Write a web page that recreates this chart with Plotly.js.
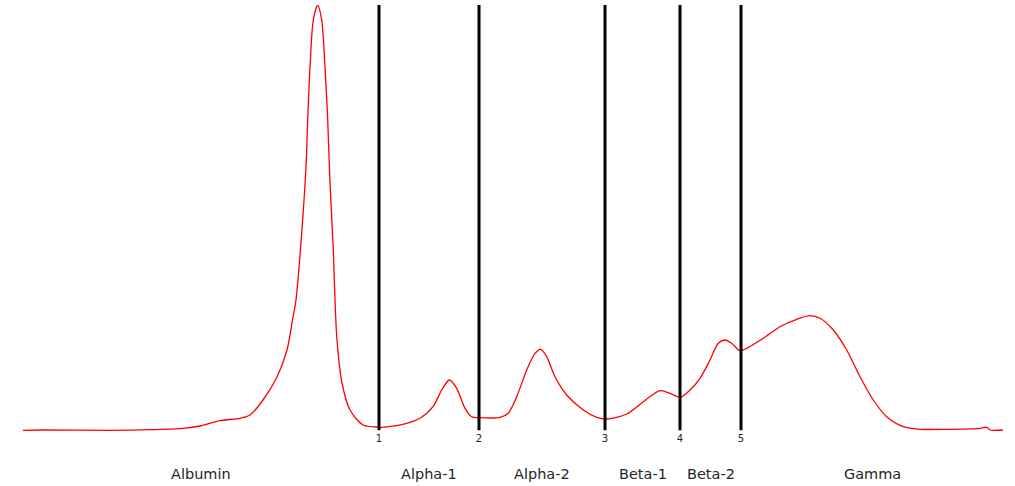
<!DOCTYPE html>
<html>
<head>
<meta charset="utf-8">
<script src="https://cdn.plot.ly/plotly-3.0.1.min.js"></script>
<style>html,body{margin:0;padding:0;background:#fff;}#chart{width:1015px;height:486px;}</style>
</head>
<body>
<div id="chart"></div>
<script>
// Densitometry trace (mobility position, intensity)
const position = [23, 40, 110, 150, 183, 200, 220, 240, 250, 263, 277, 287, 292.5, 296, 301.7, 306, 307.7, 310, 313.3, 317.7,
  321.7, 325, 327.7, 330, 333.3, 335, 337, 342, 350, 363, 377, 380, 403, 420, 433, 441.7, 449.3, 456.7, 465, 471.7, 480,
  500, 508.3, 516.7, 526.7, 535, 540.7, 546.7, 555, 566.7, 583.3, 596.7, 606.7, 626.7, 643.3, 660, 670, 680, 690, 700,
  710, 718.3, 725, 731.7, 740, 746.7, 763.3, 780, 796.7, 810, 820, 833.3, 846.7, 860, 873.3, 886.7, 903.3, 920, 946.7,
  980, 986.7, 990, 1003];
const intensity = [0.5, 1, 0.7, 1.3, 2.7, 5, 10.3, 12.7, 16, 31, 54, 81, 111, 131, 198, 264, 311, 364, 411, 426,
  411, 364, 311, 248, 181, 131, 91, 48, 21, 6, 4, 3.7, 6.7, 12.7, 24.3, 41, 51, 42.7, 22.7, 14.3, 13.3,
  13.7, 17.7, 34.3, 61, 77.7, 81.7, 74.3, 54.3, 36, 21, 13.7, 12, 17, 29.3, 40.3, 37.7, 33.7, 41, 52.7,
  71, 87.7, 91, 87.7, 80.3, 82.7, 92.7, 104.3, 111.7, 115.3, 112.7, 101, 81, 54.3, 31, 14.3, 4.3, 1.7, 1.7,
  2.7, 3.7, 1, 1];
// Fraction boundaries
const boundaries = [379, 479, 605, 680, 741];
const boundaryLabels = ['1', '2', '3', '4', '5'];
// Fraction names
const fractions = ['Albumin', 'Alpha-1', 'Alpha-2', 'Beta-1', 'Beta-2', 'Gamma'];
const xStart = 23, xEnd = 1003;

const edges = [xStart].concat(boundaries, [xEnd]);
const annotations = fractions.map((name, i) => ({
  x: (edges[i] + edges[i + 1]) / 2, xref: 'x',
  y: -0.101, yref: 'paper', yanchor: 'middle', xanchor: 'center',
  text: name, showarrow: false,
  font: {family: 'DejaVu Sans', size: 14.5, color: '#262626'}
}));
const shapes = boundaries.map(b => ({
  type: 'line', xref: 'x', yref: 'paper', x0: b, x1: b, y0: 0.002, y1: 1,
  line: {color: '#000000', width: 3}
}));

Plotly.newPlot('chart', [{
  x: position, y: intensity, type: 'scatter', mode: 'lines',
  line: {color: '#ff0000', width: 1.3, shape: 'spline', smoothing: 0.8},
  hoverinfo: 'skip'
}], {
  width: 1015, height: 486,
  margin: {l: 23, r: 12, t: 5, b: 55},
  paper_bgcolor: '#ffffff', plot_bgcolor: '#ffffff',
  showlegend: false,
  xaxis: {range: [xStart, xEnd], showgrid: false, zeroline: false, showline: false,
    tickmode: 'array', tickvals: boundaries, ticktext: boundaryLabels, ticks: '',
    tickfont: {family: 'DejaVu Sans', size: 10, color: '#262626'}},
  yaxis: {range: [0, 426], visible: false, showgrid: false, zeroline: false},
  shapes: shapes,
  annotations: annotations
}, {displayModeBar: false, staticPlot: true});
</script>
</body>
</html>
